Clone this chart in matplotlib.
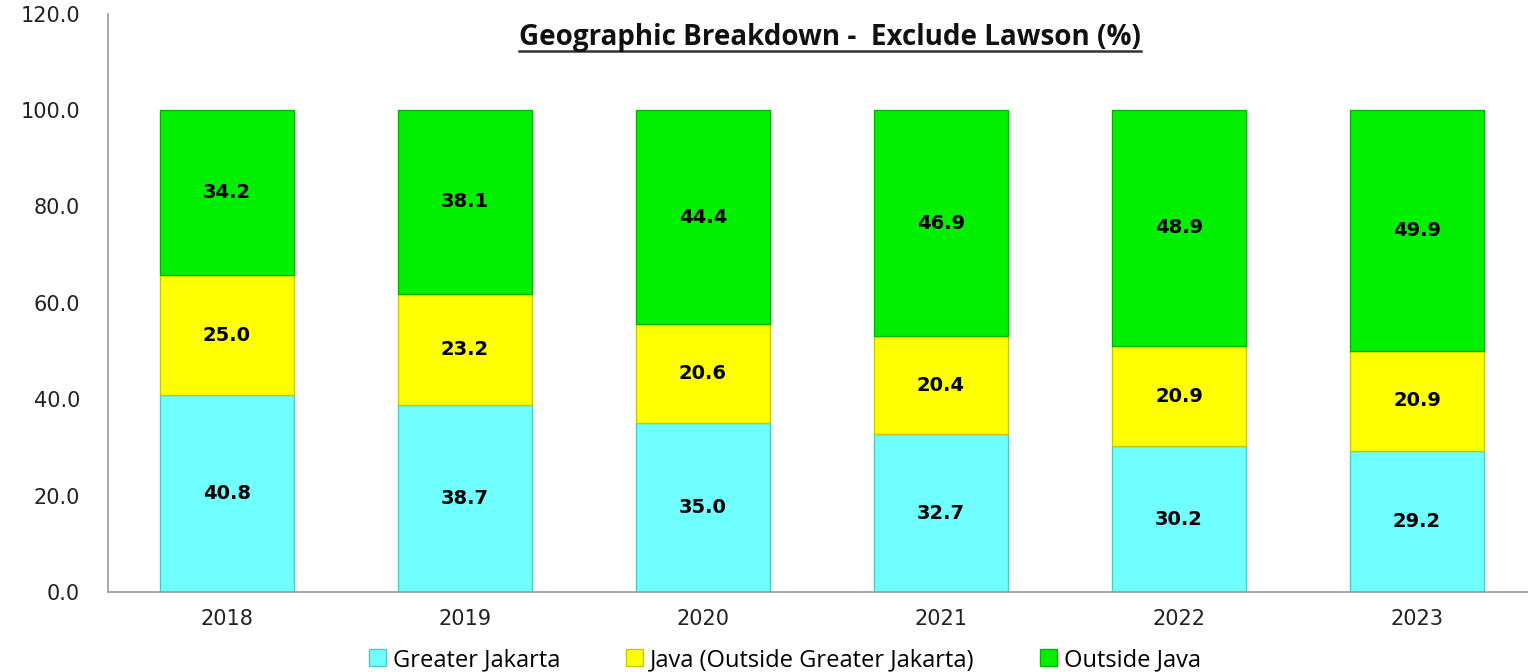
#!/usr/bin/env python3
"""
Stacked bars: geographic breakdown excluding Lawson (%), 2018-2023.
"""

import numpy as np
import matplotlib.pyplot as plt
from matplotlib.lines import Line2D

years = ["2018", "2019", "2020", "2021", "2022", "2023"]
greater_jakarta = [40.8, 38.7, 35.0, 32.7, 30.2, 29.2]
java_outside_gj = [25.0, 23.2, 20.6, 20.4, 20.9, 20.9]
outside_java = [34.2, 38.1, 44.4, 46.9, 48.9, 49.9]

series_names = ["Greater Jakarta", "Java (Outside Greater Jakarta)", "Outside Java"]
colors = ["#70FFFF", "#FFFF00", "#00F000"]
edges = ["#4FC8C8", "#C8C800", "#00B400"]

plt.rcParams['font.family'] = ['DejaVu Sans']

fig = plt.figure(figsize=(15.28, 6.72), dpi=100)
ax = fig.add_axes([108 / 1528, 80 / 672, 1428 / 1528, 578.4 / 672])

x = np.arange(len(years))
width = 0.56
bottom = np.zeros(len(years))
for name, vals, c, ec in zip(series_names, [greater_jakarta, java_outside_gj, outside_java], colors, edges):
    vals = np.array(vals)
    ax.bar(x, vals, width, bottom=bottom, color=c, edgecolor=ec, linewidth=1.0, label=name)
    for xi, b, v in zip(x, bottom, vals):
        ax.text(xi, b + v / 2, f"{v:.1f}", ha='center', va='center',
                fontsize=14, fontweight='bold', color='black')
    bottom += vals

ax.set_xlim(-0.5, len(years) - 0.5)
ax.set_ylim(0, 120)
ax.set_yticks(np.arange(0, 121, 20))
ax.set_yticklabels([f"{v:.1f}" for v in np.arange(0, 121, 20)])
ax.set_xticks(x)
ax.set_xticklabels(years)
ax.tick_params(axis='both', length=0, labelsize=15, colors='#222222')
ax.tick_params(axis='y', pad=20)
ax.tick_params(axis='x', pad=12)
for side in ['top', 'right']:
    ax.spines[side].set_visible(False)
for side in ['left', 'bottom']:
    ax.spines[side].set_color('#999999')
    ax.spines[side].set_linewidth(1.2)

# title with underline
title = fig.text(830 / 1528, 1 - 38 / 672, "Geographic Breakdown -  Exclude Lawson (%)",
                 ha='center', va='center', fontsize=20, fontweight='bold', color='#111111',
                 family='Open Sans')
fig.canvas.draw()
bb = title.get_window_extent().transformed(fig.transFigure.inverted())
fig.add_artist(Line2D([bb.x0, bb.x1], [bb.y0 + 0.002, bb.y0 + 0.002],
                      transform=fig.transFigure, color='#333333', linewidth=1.8))

fig.legend(loc='center', bbox_to_anchor=(785 / 1528, 1 - 660 / 672), ncol=3, frameon=False,
           prop={'family': 'Open Sans', 'size': 17}, handlelength=0.7, handleheight=0.7,
           handletextpad=0.3, columnspacing=2.8)

fig.savefig("out.png", dpi=100)
